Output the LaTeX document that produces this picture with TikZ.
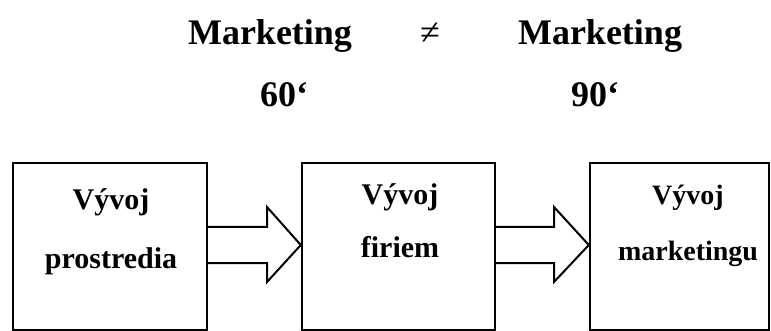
\documentclass[tikz,border=0pt]{standalone}
\usepackage{fontspec}
\setmainfont{Liberation Serif}
\usetikzlibrary{calc}
\begin{document}
\begin{tikzpicture}[x=1pt,y=-1pt,
  box/.style={draw,line width=2.4pt,inner sep=0pt,minimum height=167pt},
  txt/.style={anchor=base,inner sep=0pt,font=\bfseries\fontsize{30}{30}\selectfont},
  title/.style={anchor=base,inner sep=0pt,font=\bfseries\fontsize{36}{36}\selectfont},
  blockarrow/.style={draw,line width=2pt,fill=white,line join=miter}]
\useasboundingbox (0,0) rectangle (771,331);
% titles
\node[title] (m1) at (270,45) {Marketing};
\node[anchor=base,inner sep=0pt,font=\fontsize{36}{36}\selectfont] (ne) at (430,45) {≠};
\node[title] (m2) at (600,45) {Marketing};
\node[title] (y1) at (284,107) {60‘};
\node[title] (y2) at (595,107) {90‘};
% boxes
\node[box,minimum width=194pt] (b1) at (110,246.5) {};
\node[box,minimum width=193pt] (b2) at (398.5,246.5) {};
\node[box,minimum width=179pt] (b3) at (679.5,246.5) {};
% box texts
\node[txt] (t1a) at (111,210) {Vývoj};
\node[txt] (t1b) at (111,268) {prostredia};
\node[txt] (t2a) at (400,205) {Vývoj};
\node[txt] (t2b) at (400,258) {firiem};
\node[txt,font=\bfseries\fontsize{28}{28}\selectfont] (t3a) at (688,205) {Vývoj};
\node[txt,font=\bfseries\fontsize{28}{28}\selectfont] (t3b) at (688,260) {marketingu};
% block arrows
\draw[blockarrow] ($(b1.east|-0,227)$) -- (267,227) -- (267,207) -- ($(b2.west|-0,245)$)
   -- (267,282) -- (267,263) -- ($(b1.east|-0,263)$);
\draw[blockarrow] ($(b2.east|-0,227)$) -- (554,227) -- (554,207) -- ($(b3.west|-0,245)$)
   -- (554,282) -- (554,263) -- ($(b2.east|-0,263)$);
\end{tikzpicture}
\end{document}
